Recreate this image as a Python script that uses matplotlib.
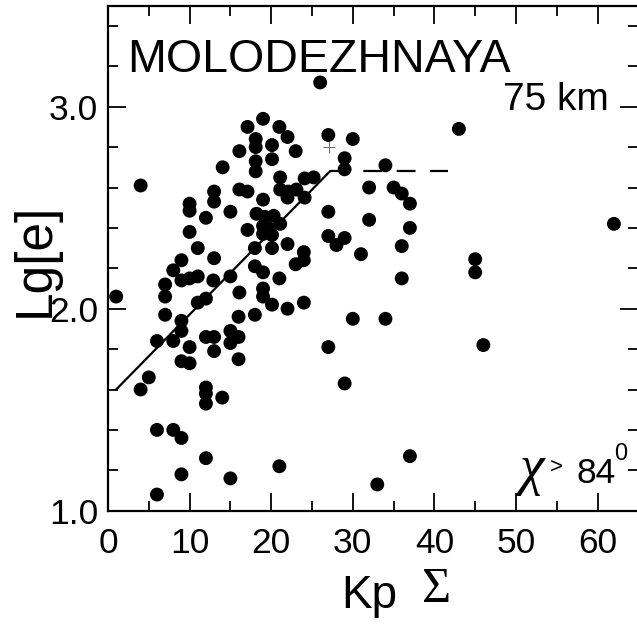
import numpy as np
import matplotlib
matplotlib.use("Agg")
import matplotlib.pyplot as plt
from matplotlib.ticker import MultipleLocator

plt.rcParams['font.family'] = ['Liberation Sans', 'DejaVu Sans']

# Kp sum vs Lg[e], Molodezhnaya 75 km, chi > 84 deg
kp = [1.0, 4.0, 26.0, 19.0, 17.1, 21.0, 22.0, 18.1, 18.1, 20.1,
      16.1, 23.0, 20.1, 18.1, 18.1, 14.05, 21.1, 24.1, 25.2, 21.1,
      22.1, 23.1, 22.0, 24.1, 16.1, 17.1, 13.0, 13.0, 10.0, 10.0,
      19.0, 15.0, 12.0, 18.2, 19.2, 20.3, 21.1, 19.0, 19.6, 20.1,
      19.0, 17.1, 10.0, 22.0, 18.0, 20.1, 11.0, 24.0, 24.0, 23.0,
      13.0, 9.0, 18.0, 19.0, 8.0, 9.0, 10.0, 11.0, 12.9, 21.0,
      15.0, 7.0, 7.0, 19.0, 19.0, 16.1, 20.1, 12.0, 11.0, 22.0,
      24.0, 7.0, 16.0, 18.0, 9.0, 9.0, 6.0, 8.0, 10.0, 9.0,
      10.0, 12.0, 13.0, 13.0, 15.0, 15.0, 16.0, 16.0, 5.0, 4.0,
      12.0, 12.0, 12.0, 14.0, 6.0, 8.0, 9.0, 12.0, 9.0, 15.0,
      21.0, 6.0,
      43.0, 27.0, 30.0, 29.0, 29.0, 34.0, 32.0, 35.0, 36.0, 37.0,
      27.0, 32.0, 37.0, 27.0, 28.0, 29.0, 31.0, 36.0, 36.0, 45.0,
      45.0, 62.0, 30.0, 34.0, 27.0, 46.0, 29.0, 37.0, 33.0]
lge = [2.06, 2.61, 3.12, 2.94, 2.90, 2.90, 2.85, 2.84, 2.80, 2.81,
       2.78, 2.78, 2.74, 2.73, 2.68, 2.70, 2.65, 2.645, 2.65, 2.59,
       2.58, 2.59, 2.55, 2.55, 2.59, 2.58, 2.58, 2.53, 2.52, 2.485,
       2.54, 2.48, 2.45, 2.47, 2.455, 2.46, 2.42, 2.41, 2.40, 2.365,
       2.37, 2.39, 2.38, 2.32, 2.30, 2.30, 2.30, 2.28, 2.24, 2.22,
       2.25, 2.24, 2.21, 2.18, 2.19, 2.14, 2.15, 2.16, 2.14, 2.15,
       2.16, 2.12, 2.06, 2.10, 2.06, 2.08, 2.02, 2.05, 2.03, 2.00,
       2.03, 1.97, 1.96, 1.97, 1.94, 1.89, 1.84, 1.84, 1.81, 1.74,
       1.73, 1.86, 1.86, 1.79, 1.89, 1.83, 1.86, 1.75, 1.66, 1.60,
       1.61, 1.58, 1.53, 1.56, 1.40, 1.40, 1.36, 1.26, 1.18, 1.16,
       1.22, 1.08,
       2.89, 2.86, 2.84, 2.745, 2.69, 2.71, 2.60, 2.60, 2.57, 2.52,
       2.48, 2.44, 2.40, 2.36, 2.315, 2.35, 2.27, 2.31, 2.15, 2.245,
       2.18, 2.42, 1.95, 1.95, 1.81, 1.82, 1.63, 1.27, 1.13]

# fitted trend: rising part and saturation level
fit_x = [1.0, 27.2]
fit_y = [1.60, 2.68]
sat_x = [27.2, 41.7]
sat_y = [2.68, 2.68]
cross_x = [27.1]
cross_y = [2.80]

W, H = 637, 624
fig = plt.figure(figsize=(W / 100, H / 100), dpi=100)
ax = fig.add_axes([108 / W, 1 - 510.7 / H, 530.4 / W, 505 / H])

ax.scatter(kp, lge, s=100, color='black', edgecolors='none', zorder=3)
ax.plot(fit_x, fit_y, color='black', lw=1.6)
ax.plot(sat_x, sat_y, color='black', lw=1.6, dashes=(8.5, 6.5))
ax.plot(cross_x, cross_y, marker='+', color='0.45', ms=8, mew=0.8, ls='none')

ax.set_xlim(0, 65)
ax.set_ylim(1.0, 3.5)
ax.xaxis.set_major_locator(MultipleLocator(10))
ax.xaxis.set_minor_locator(MultipleLocator(5))
ax.yaxis.set_major_locator(MultipleLocator(1.0))
ax.yaxis.set_minor_locator(MultipleLocator(0.2))
ax.yaxis.set_major_formatter(matplotlib.ticker.FormatStrFormatter('%.1f'))
ax.tick_params(which='both', direction='in', top=True, right=True, width=1.3)
ax.tick_params(which='major', length=13, labelsize=25.5)
ax.tick_params(axis='y', which='major', pad=7)
ax.tick_params(axis='x', which='major', pad=12)
ax.tick_params(which='minor', length=7)
for sp in ax.spines.values():
    sp.set_linewidth(1.6)

def fx(px):
    return px / W

def fy(py):
    return 1 - py / H

fig.text(fx(127), fy(72), 'MOLODEZHNAYA', fontsize=33.5, va='baseline')
fig.text(fx(503), fy(110), '75 km', fontsize=28, va='baseline')
fig.text(fx(519), fy(484), 'χ', fontsize=40, family='Liberation Serif',
         style='italic', va='baseline')
fig.text(fx(550), fy(473), '>', fontsize=16, va='baseline')
fig.text(fx(576), fy(483), '84', fontsize=25.5, va='baseline')
fig.text(fx(614), fy(460), '0', fontsize=17, va='baseline')

fig.text(fx(35), fy(260), 'Lg[e]', fontsize=37, rotation=90,
         ha='center', va='center')
fig.text(fx(341), fy(608), 'Kp', fontsize=33, va='baseline')
fig.text(fx(422), fy(602), 'Σ', fontsize=36, family='Liberation Serif',
         va='baseline')

fig.savefig('out.png', dpi=100)
